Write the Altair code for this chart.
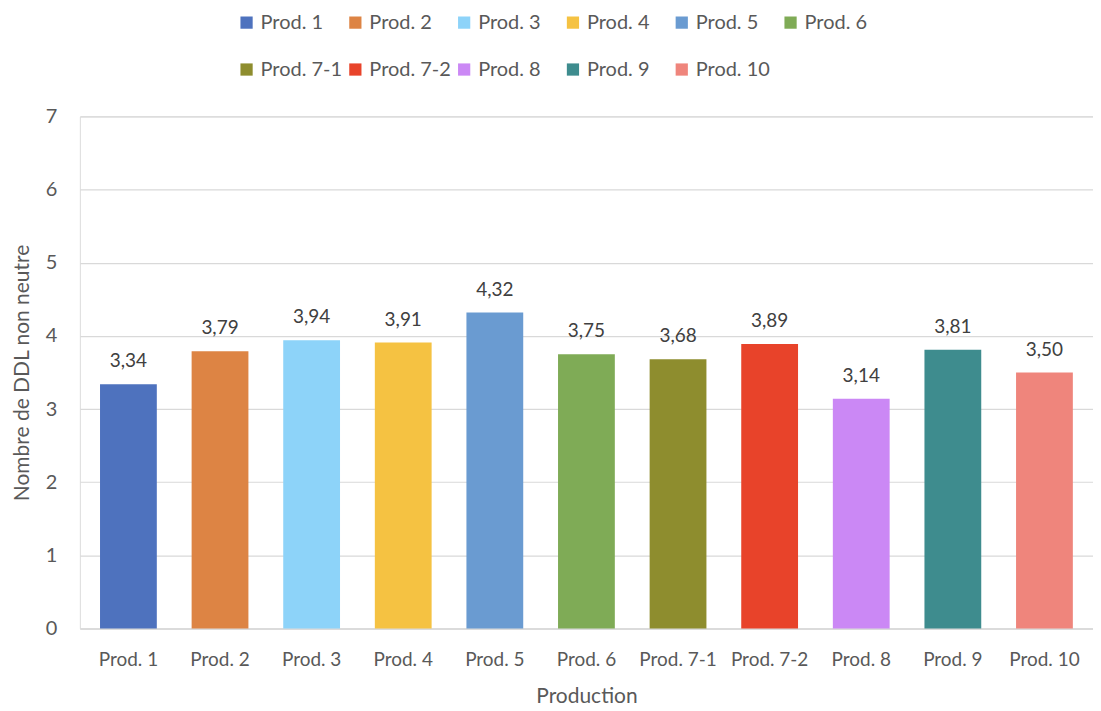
import altair as alt
import pandas as pd

categories = ["Prod. 1", "Prod. 2", "Prod. 3", "Prod. 4", "Prod. 5", "Prod. 6",
              "Prod. 7-1", "Prod. 7-2", "Prod. 8", "Prod. 9", "Prod. 10"]
values = [3.34, 3.79, 3.94, 3.91, 4.32, 3.75, 3.68, 3.89, 3.14, 3.81, 3.50]
colors = ["#4E72BE", "#DD8444", "#8DD3F9", "#F5C242", "#6A9BD1", "#7FAB56",
          "#8E8D2E", "#E8432A", "#CB88F5", "#3E8C8E", "#EF857C"]
y_ticks = [0, 1, 2, 3, 4, 5, 6, 7]

df = pd.DataFrame({"Production": categories, "value": values})

FONT = "Lato"
GREY = "#595959"

x = alt.X("Production:N", sort=categories,
          scale=alt.Scale(paddingInner=0.38, paddingOuter=0.22),
          axis=alt.Axis(title="Production", labelAngle=0, labelFontSize=19,
                        labelColor=GREY, titleFontSize=21, titleColor=GREY,
                        titleFontWeight="normal", labelPadding=22, titlePadding=16,
                        ticks=False, domainColor="#D9D9D9", domainWidth=1.5,
                        labelFont=FONT, titleFont=FONT))
y = alt.Y("value:Q", scale=alt.Scale(domain=[0, 7]),
          axis=alt.Axis(title="Nombre de DDL non neutre", values=y_ticks, format="d",
                        labelFontSize=20, labelColor=GREY, titleFontSize=21,
                        titleColor=GREY, titleFontWeight="normal", ticks=False,
                        domain=False, gridColor="#D9D9D9", gridWidth=1.2,
                        labelPadding=23, titlePadding=13,
                        labelFont=FONT, titleFont=FONT))

bars = alt.Chart(df).mark_bar().encode(
    x=x, y=y,
    color=alt.Color("Production:N", sort=categories,
                    scale=alt.Scale(domain=categories, range=colors),
                    legend=alt.Legend(title=None, orient="none", legendX=157, legendY=-104,
                                      direction="horizontal", columns=6, gridAlign="all",
                                      symbolType="square", symbolSize=150,
                                      symbolStrokeWidth=0, labelFontSize=20,
                                      labelColor=GREY, labelFont=FONT, labelLimit=200,
                                      columnPadding=3, rowPadding=27, labelOffset=4))
)

labels = alt.Chart(df).transform_calculate(
    lab="replace(format(datum.value, '.2f'), '.', ',')"
).mark_text(baseline="bottom", dy=-13, fontSize=19, color="#404040", font=FONT).encode(
    x=alt.X("Production:N", sort=categories), y="value:Q", text="lab:N"
)

chart = alt.layer(bars, labels).properties(
    width=1015, height=513, padding={"left": 3, "top": 4, "right": 0, "bottom": 0}
).configure_view(stroke=None).configure(background="white")

chart.save("out.html", embed_options={"renderer": "svg", "actions": False})
